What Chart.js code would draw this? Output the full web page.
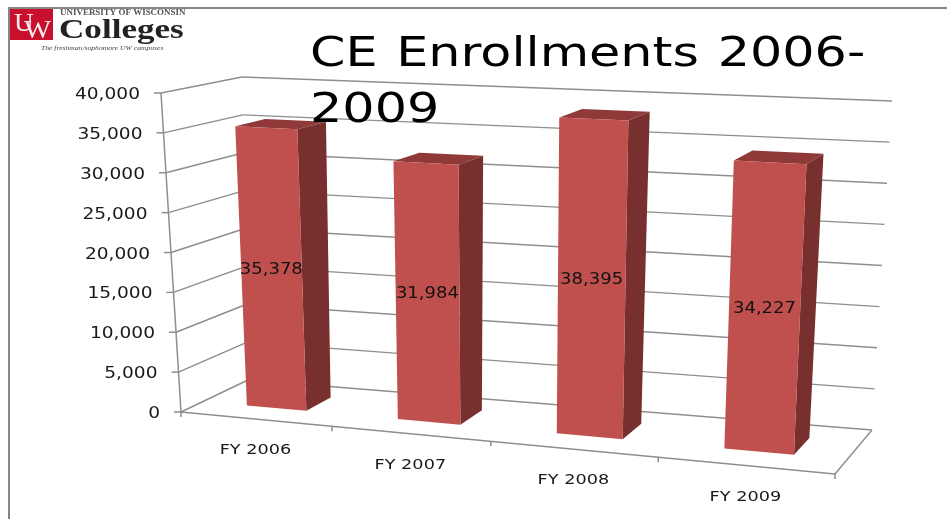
<!DOCTYPE html>
<html>
<head>
<meta charset="utf-8">
<title>CE Enrollments 2006-2009</title>
<script src="https://cdn.jsdelivr.net/npm/chart.js@4"></script>
<style>
html, body { margin: 0; padding: 0; background: #fff; }
canvas { display: block; }
</style>
</head>
<body>
<canvas id="chart" width="947" height="519"></canvas>
<script>
const categories = ["FY 2006", "FY 2007", "FY 2008", "FY 2009"];
const enrollments = [35378, 31984, 38395, 34227];
const titleLines = ["CE Enrollments 2006-", "2009"];
const logoLines = ["UNIVERSITY OF WISCONSIN", "Colleges", "The freshman/sophomore UW campuses"];

// corners of the 3D box on the page, [x, y]
const box = {
    frontBottomLeft: [181, 412], frontTopLeft: [161, 93],
    frontBottomRight: [835, 474], frontTopRight: [851, 126],
    backBottomLeft: [248, 380], backTopLeft: [242, 77],
    backBottomRight: [872, 430], backTopRight: [892, 101],
};
const BAR_FRONT = 0.33;
const BAR_BACK = 0.72;

const lerp = (a, b, t) => a + (b - a) * t;

// chart area pixel + depth (0 front, 1 back) -> page position
function project(chart, px, py, w) {
    const area = chart.chartArea;
    let u = (px - area.left) / (area.right - area.left);
    u = 0.9 * u / (1 - 0.1 * u); // right side is nearer, so it spreads out
    const v = (area.bottom - py) / (area.bottom - area.top);
    const pt = (i) => lerp(
        lerp(lerp(box.frontBottomLeft[i], box.frontBottomRight[i], u),
             lerp(box.frontTopLeft[i], box.frontTopRight[i], u), v),
        lerp(lerp(box.backBottomLeft[i], box.backBottomRight[i], u),
             lerp(box.backTopLeft[i], box.backTopRight[i], u), v),
        w);
    return [pt(0), pt(1)];
}

function line(ctx, from, to) {
    ctx.beginPath();
    ctx.moveTo(from[0], from[1]);
    ctx.lineTo(to[0], to[1]);
    ctx.stroke();
}

function poly(ctx, points, color) {
    ctx.fillStyle = color;
    ctx.beginPath();
    points.forEach((p, i) => i ? ctx.lineTo(p[0], p[1]) : ctx.moveTo(p[0], p[1]));
    ctx.closePath();
    ctx.fill();
}

// the reference text is stretched sideways, stretch is that factor
function text(ctx, str, x, y, font, align, stretch, color) {
    ctx.save();
    ctx.translate(x, y);
    ctx.scale(stretch, 1);
    ctx.font = font;
    ctx.fillStyle = color || "#1a1a1a";
    ctx.textAlign = align;
    ctx.textBaseline = "alphabetic";
    ctx.fillText(str, 0, 0);
    ctx.restore();
}

const box3d = {
    id: "box3d",
    beforeDatasetsDraw(chart) {
        const ctx = chart.ctx;
        const area = chart.chartArea;
        const yScale = chart.scales.y;
        const xScale = chart.scales.x;

        ctx.save();
        ctx.strokeStyle = "#8e8e8e";
        ctx.lineWidth = 1.5;
        yScale.ticks.forEach((tick) => {
            const py = yScale.getPixelForValue(tick.value);
            const front = project(chart, area.left, py, 0);
            const corner = project(chart, area.left, py, 1);
            const end = project(chart, area.right, py, 1);
            line(ctx, [front[0] - 7, front[1]], front);
            line(ctx, front, corner);
            line(ctx, corner, end);
            text(ctx, tick.label, front[0] - 21, front[1] + 6, '15.5px "DejaVu Sans"', "right", 1.2);
        });
        line(ctx, project(chart, area.left, area.top, 0), project(chart, area.left, area.bottom, 0));

        const floorLeft = project(chart, area.left, area.bottom, 0);
        const floorRight = project(chart, area.right, area.bottom, 0);
        line(ctx, floorLeft, floorRight);
        line(ctx, floorRight, project(chart, area.right, area.bottom, 1));
        line(ctx, floorLeft, [floorLeft[0], floorLeft[1] + 5]);
        categories.forEach((name, i) => {
            const tickPt = project(chart, xScale.getPixelForValue(i) + (area.right - area.left) / 8, area.bottom, 0);
            line(ctx, tickPt, [tickPt[0], tickPt[1] + 5]);
            const labelPt = project(chart, xScale.getPixelForValue(i), area.bottom, 0);
            text(ctx, name, labelPt[0], labelPt[1] + 35, '14.5px "DejaVu Sans"', "center", 1.22);
        });
        ctx.restore();

        const bars = chart.getDatasetMeta(0).data;
        bars.forEach((bar) => {
            const l = bar.x - bar.width / 2;
            const r = bar.x + bar.width / 2;
            const p = (x, y, w) => project(chart, x, y, w);
            poly(ctx, [p(r, bar.y, BAR_FRONT), p(r, bar.y, BAR_BACK), p(r, bar.base, BAR_BACK), p(r, bar.base, BAR_FRONT)], "#77302e");
            poly(ctx, [p(l, bar.y, BAR_FRONT), p(r, bar.y, BAR_FRONT), p(r, bar.y, BAR_BACK), p(l, bar.y, BAR_BACK)], "#8f3a38");
            poly(ctx, [p(l, bar.y, BAR_FRONT), p(r, bar.y, BAR_FRONT), p(r, bar.base, BAR_FRONT), p(l, bar.base, BAR_FRONT)], "#c0504d");
        });
        bars.forEach((bar, i) => {
            const mid = project(chart, bar.x, (bar.y + bar.base) / 2, BAR_FRONT);
            text(ctx, enrollments[i].toLocaleString("en-US"), mid[0], mid[1] + 6, '15px "DejaVu Sans"', "center", 1.2, "#111");
        });
        return false;
    },
    afterDraw(chart) {
        const ctx = chart.ctx;
        // slide frame
        ctx.save();
        ctx.strokeStyle = "#868686";
        ctx.lineWidth = 2;
        ctx.beginPath();
        ctx.moveTo(9, 519);
        ctx.lineTo(9, 8);
        ctx.lineTo(947, 8);
        ctx.stroke();

        // logo
        ctx.fillStyle = "#fff";
        ctx.fillRect(10, 9, 176, 42);
        ctx.fillStyle = "#c8102e";
        ctx.fillRect(10, 9, 43, 31);
        text(ctx, "U", 14, 31, '26px "Liberation Serif"', "left", 1.05, "#f4ecec");
        text(ctx, "W", 24, 38, '26px "Liberation Serif"', "left", 1.1, "#f4ecec");
        text(ctx, logoLines[0], 60, 15, 'bold 8px "Liberation Serif"', "left", 1.12, "#555");
        text(ctx, logoLines[1], 59, 38, 'bold 27px "Liberation Serif"', "left", 1.3, "#222");
        text(ctx, logoLines[2], 41, 50, 'italic 6px "Liberation Serif"', "left", 1.27, "#444");

        ctx.wordSpacing = "2px";
        titleLines.forEach((str, i) => {
            text(ctx, str, 310, 66 + i * 56, '40px "DejaVu Sans"', "left", 1.27, "#000");
        });
        ctx.restore();
    }
};

new Chart(document.getElementById("chart"), {
    type: "bar",
    data: {
        labels: categories,
        datasets: [{
            label: "CE Enrollments",
            data: enrollments,
            backgroundColor: "#c0504d",
            categoryPercentage: 0.4,
            barPercentage: 1,
        }]
    },
    options: {
        responsive: false,
        animation: false,
        layout: { padding: { left: 161, right: 55, top: 92, bottom: 107 } },
        scales: {
            x: { display: true, grid: { display: false }, border: { display: false }, ticks: { display: false } },
            y: {
                min: 0,
                max: 40000,
                grid: { display: false },
                border: { display: false },
                ticks: { display: false, stepSize: 5000 },
            }
        },
        plugins: { legend: { display: false }, tooltip: { enabled: false } }
    },
    plugins: [box3d]
});
</script>
</body>
</html>
